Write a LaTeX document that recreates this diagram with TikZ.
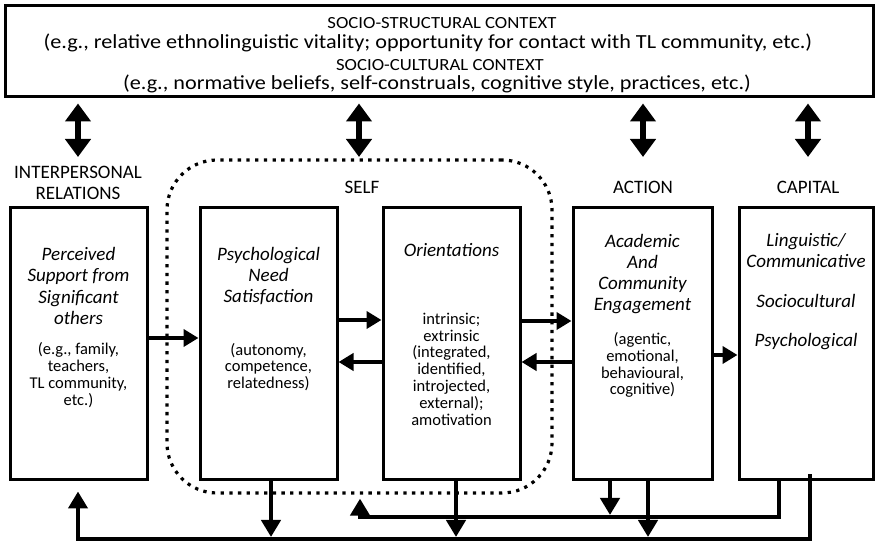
\documentclass[tikz,border=0pt]{standalone}
\usepackage{fontspec}
\setmainfont{Carlito}
\usetikzlibrary{arrows.meta,calc}

\tikzset{
  box/.style={draw, line width=3pt, inner sep=0pt, minimum height=272pt},
  ctxbox/.style={draw, line width=3pt, inner sep=0pt, minimum width=868pt, minimum height=91pt},
  ctxhead/.style={inner sep=0pt, anchor=base, font=\fontsize{17}{20}\selectfont\addfontfeature{FakeStretch=1.1}},
  ctxtext/.style={inner sep=0pt, anchor=base, font=\fontsize{20}{22}\selectfont\addfontfeature{FakeStretch=1.11}},
  lbl/.style={inner sep=0pt, anchor=north, align=center, font=\fontsize{19}{21}\selectfont},
  ttl/.style={inner sep=0pt, align=center, font=\fontsize{19}{21.3}\selectfont\itshape},
  dtl/.style={inner sep=0pt, align=center, font=\fontsize{16.5}{16.8}\selectfont},
  selfframe/.style={draw, line width=3.2pt, dash pattern=on 3.3pt off 5.4pt, rounded corners=50pt,
    inner sep=0pt, minimum width=385pt, minimum height=333pt},
  dblarr/.style={line width=6pt, {Triangle[length=18pt,width=25pt]}-{Triangle[length=18pt,width=25pt]}},
  arr/.style={line width=3.8pt, -{Triangle[length=15pt,width=17pt]}},
  barr/.style={line width=4.5pt, -{Triangle[length=17pt,width=19pt]}}
}

\begin{document}
\begin{tikzpicture}[x=1pt,y=1pt]
    \useasboundingbox (0,0) rectangle (875,545);

    % Context box on top
    \node[ctxbox] (ctx) at (439,493.5) {};
    \node[ctxhead] (ctxA) at (442,516) {SOCIO-STRUCTURAL CONTEXT};
    \node[ctxtext] (ctxB) at (428,496) {(e.g., relative ethnolinguistic vitality; opportunity for contact with TL community, etc.)};
    \node[ctxhead] (ctxC) at (440,474) {SOCIO-CULTURAL CONTEXT};
    \node[ctxtext] (ctxD) at (437,455) {(e.g., normative beliefs, self-construals, cognitive style, practices, etc.)};

    % Dotted frame of the self
    \node[selfframe] (self) at (359.5,218.5) {};

    % Column labels
    \node[lbl] (rellbl) at (78,379) {INTERPERSONAL\\RELATIONS};
    \node[lbl] (selflbl) at (362,364) {SELF};
    \node[lbl] (actlbl) at (643,364) {ACTION};
    \node[lbl] (caplbl) at (808,364) {CAPITAL};

    % Boxes
    \node[box, minimum width=137pt] (rel) at (78.5,201) {};
    \node[box, minimum width=137pt] (need) at (268.5,201) {};
    \node[box, minimum width=137pt] (ori) at (451.5,201) {};
    \node[box, minimum width=139pt] (act) at (642.5,201) {};
    \node[box, minimum width=134pt] (cap) at (806,201) {};

    % Box texts
    \node[ttl] (relT) at (78.5,259) {Perceived\\Support from\\Significant\\others};
    \node[dtl] (relD) at (78.5,170) {(e.g., family,\\teachers,\\TL community,\\etc.)};
    \node[ttl] (needT) at (268.5,269) {Psychological\\Need\\Satisfaction};
    \node[dtl] (needD) at (268.5,178) {(autonomy,\\competence,\\relatedness)};
    \node[ttl] (oriT) at (451.5,295) {Orientations};
    \node[dtl] (oriD) at (451.5,176) {intrinsic;\\extrinsic\\(integrated,\\identified,\\introjected,\\external);\\amotivation};
    \node[ttl] (actT) at (642.5,271) {Academic\\And\\Community\\Engagement};
    \node[dtl] (actD) at (642.5,180) {(agentic,\\emotional,\\behavioural,\\cognitive)};
    \node[ttl] (capT) at (806,253.5) {Linguistic/\\Communicative\\[18pt]Sociocultural\\[18pt]Psychological};

    % Context arrows
    \draw[dblarr] ([yshift=-5]ctx.south -| rellbl) -- ([yshift=9]rellbl.north);
    \draw[dblarr] ([yshift=-5]ctx.south -| 359,0) -- ([yshift=24]selflbl.north -| 359,0);
    \draw[dblarr] ([yshift=-5]ctx.south -| actlbl) -- ([yshift=24]actlbl.north);
    \draw[dblarr] ([yshift=-5]ctx.south -| caplbl) -- ([yshift=24]caplbl.north);

    % Arrows between boxes
    \draw[arr] ([yshift=6]rel.east) -- ([yshift=6]need.west);
    \draw[arr] ([yshift=24]need.east) -- ([yshift=24]ori.west);
    \draw[arr] ([yshift=-18]ori.west) -- ([yshift=-18]need.east);
    \draw[arr] ([yshift=23]ori.east) -- ([yshift=23]act.west);
    \draw[arr] ([yshift=-18]act.west) -- ([yshift=-18]ori.east);
    \draw[arr] ([yshift=-11]act.east) -- ([yshift=-11]cap.west);

    % Feedback lines at the bottom
    \coordinate (lowL) at (78,6);
    \coordinate (upL) at (360,28);
    \draw[barr] ([xshift=4,yshift=7]cap.south) |- (lowL) -- ([yshift=-10]rel.south -| lowL);
    \draw[barr] ([xshift=-27]cap.south) |- (upL) -- ([yshift=-4]self.south -| upL);
    \draw[barr] ([xshift=2.5]need.south) -- ([xshift=2.5,yshift=2]need.south |- lowL);
    \draw[barr] ([xshift=4.5]ori.south) -- ([xshift=4.5,yshift=2]ori.south |- lowL);
    \draw[barr] ([xshift=-32.5]act.south) -- ([xshift=-32.5,yshift=2]act.south |- upL);
    \draw[barr] ([xshift=5.5]act.south) -- ([xshift=5.5,yshift=2]act.south |- lowL);

\end{tikzpicture}
\end{document}
